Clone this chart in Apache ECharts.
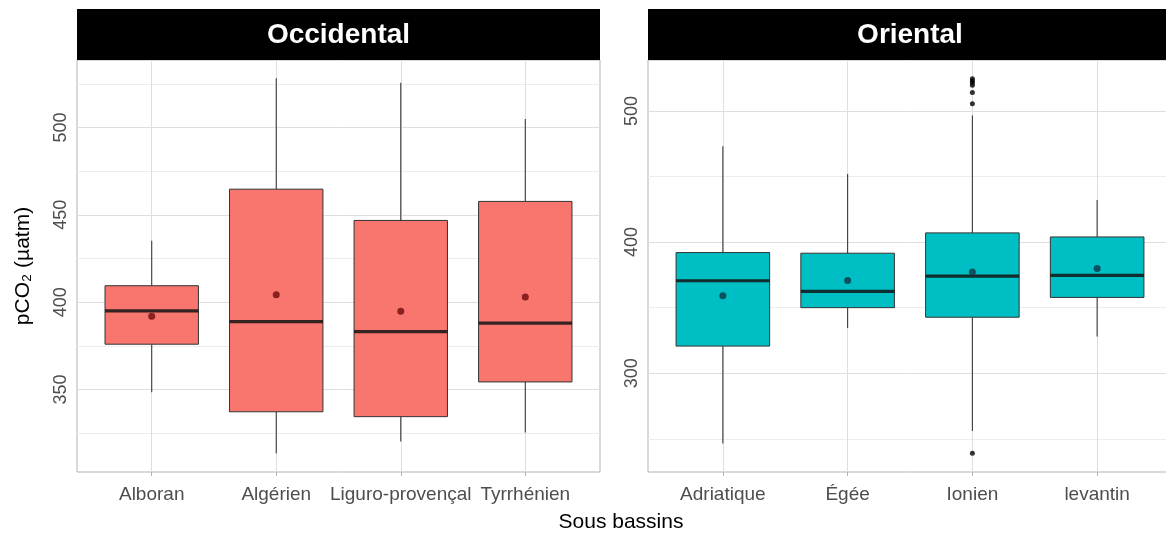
<!DOCTYPE html>
<html>
<head>
<meta charset="utf-8">
<script src="https://cdn.jsdelivr.net/npm/echarts@6/dist/echarts.min.js"></script>
<style>
html, body { margin: 0; padding: 0; background: #fff; }
#chart { width: 1166px; height: 535px; }
</style>
</head>
<body>
<div id="chart"></div>
<script>
// Occidental basin: box stats
const occCats = ['Alboran', 'Algérien', 'Liguro-provençal', 'Tyrrhénien']
const occLow = [348.4, 313.4, 320.2, 325.3]
const occQ1 = [375.9, 337.2, 334.4, 354.3]
const occMed = [395.0, 388.8, 383.1, 388.0]
const occQ3 = [409.4, 464.7, 446.8, 457.7]
const occHigh = [435.1, 528.2, 525.7, 504.9]
const occMean = [391.9, 404.3, 394.8, 403.0]
const occTicks = [350, 400, 450, 500]
const occMinor = [325, 375, 425, 475, 525]

// Oriental basin
const oriCats = ['Adriatique', 'Égée', 'Ionien', 'levantin']
const oriLow = [246.4, 334.5, 256.0, 328.0]
const oriQ1 = [320.7, 350.0, 342.7, 357.8]
const oriMed = [370.5, 362.4, 374.1, 374.6]
const oriQ3 = [392.0, 391.5, 407.0, 403.9]
const oriHigh = [473.1, 451.8, 496.4, 432.1]
const oriMean = [359.1, 370.7, 377.2, 379.8]
const ionienOutliers = [239, 505.5, 514, 519.5, 521.5, 523, 524.5]
const oriTicks = [300, 400, 500]
const oriMinor = [250, 350, 450]

const FONT = 'Liberation Sans, Arial, sans-serif'
const BOX_WIDTH = 0.75
const catPos = [0, 1, 2, 3]

function boxRows (low, q1, med, q3, high) {
  return low.map((v, i) => [i, v, q1[i], med[i], q3[i], high[i]])
}

function renderBox (params, api) {
  const x = api.value(0)
  const lo = api.coord([x, api.value(1)])
  const q1 = api.coord([x, api.value(2)])
  const med = api.coord([x, api.value(3)])
  const q3 = api.coord([x, api.value(4)])
  const hi = api.coord([x, api.value(5)])
  const half = api.size([BOX_WIDTH, 0])[0] / 2
  const wStyle = { stroke: '#3a3a3a', lineWidth: 1.1 }
  return {
    type: 'group',
    children: [
      { type: 'line', shape: { x1: lo[0], y1: lo[1], x2: q1[0], y2: q1[1] }, style: wStyle },
      { type: 'line', shape: { x1: q3[0], y1: q3[1], x2: hi[0], y2: hi[1] }, style: wStyle },
      {
        type: 'rect',
        shape: { x: q3[0] - half, y: q3[1], width: half * 2, height: q1[1] - q3[1] },
        style: { fill: api.visual('color'), stroke: '#333333', lineWidth: 1 }
      },
      {
        type: 'line',
        shape: { x1: med[0] - half, y1: med[1], x2: med[0] + half, y2: med[1] },
        style: { stroke: 'rgba(20,20,20,0.85)', lineWidth: 3.2 }
      }
    ]
  }
}

function gridLines (g, ticks, minor) {
  const line = (color) => ({ color: color, width: 1, type: 'solid' })
  return {
    type: 'line',
    xAxisIndex: g,
    yAxisIndex: g,
    data: [],
    z: 1,
    silent: true,
    markLine: {
      silent: true,
      z: 1,
      symbol: 'none',
      animation: false,
      label: { show: false },
      emphasis: { disabled: true },
      data: [
        ...minor.map(v => ({ yAxis: v, lineStyle: line('#ececec') })),
        ...ticks.map(v => ({ yAxis: v, lineStyle: line('#dedede') })),
        ...catPos.map(v => ({ xAxis: v, lineStyle: line('#dedede') }))
      ]
    }
  }
}

function xAxisFor (g, cats) {
  return {
    type: 'value',
    gridIndex: g,
    min: -0.6,
    max: 3.6,
    axisLine: { show: false },
    axisTick: { show: true, customValues: catPos, length: 4, lineStyle: { color: '#b3b3b3' } },
    axisLabel: {
      customValues: catPos,
      formatter: v => cats[Math.round(v)],
      fontSize: 19,
      fontFamily: FONT,
      color: '#4d4d4d',
      margin: 13
    },
    splitLine: { show: false }
  }
}

function yAxisFor (g, min, max, ticks) {
  return {
    type: 'value',
    gridIndex: g,
    min: min,
    max: max,
    axisLine: { show: false },
    axisTick: { show: true, customValues: ticks, length: 4, lineStyle: { color: '#b3b3b3' } },
    axisLabel: {
      customValues: ticks,
      rotate: 90,
      fontSize: 18,
      fontFamily: FONT,
      color: '#4d4d4d',
      margin: 7
    },
    splitLine: { show: false }
  }
}

const chart = echarts.init(document.getElementById('chart'))

const option = {
  animation: false,
  backgroundColor: '#fff',
  grid: [
    { left: 77, top: 60, width: 523, height: 412, show: true, borderColor: '#b3b3b3', borderWidth: 1, backgroundColor: '#fff', outerBoundsMode: 'none' },
    { left: 648, top: 60, width: 524, height: 412, show: true, borderColor: '#b3b3b3', borderWidth: 1, backgroundColor: '#fff', outerBoundsMode: 'none' }
  ],
  xAxis: [xAxisFor(0, occCats), xAxisFor(1, oriCats)],
  yAxis: [yAxisFor(0, 302.7, 538.7, occTicks), yAxisFor(1, 224.7, 538.8, oriTicks)],
  series: [
    gridLines(0, occTicks, occMinor),
    gridLines(1, oriTicks, oriMinor),
    {
      type: 'custom',
      name: 'Occidental',
      xAxisIndex: 0,
      yAxisIndex: 0,
      z: 2,
      itemStyle: { color: '#F8766D' },
      renderItem: renderBox,
      encode: { x: 0, y: [1, 2, 3, 4, 5] },
      data: boxRows(occLow, occQ1, occMed, occQ3, occHigh)
    },
    {
      type: 'custom',
      name: 'Oriental',
      xAxisIndex: 1,
      yAxisIndex: 1,
      z: 2,
      itemStyle: { color: '#00BFC4' },
      renderItem: renderBox,
      encode: { x: 0, y: [1, 2, 3, 4, 5] },
      data: boxRows(oriLow, oriQ1, oriMed, oriQ3, oriHigh)
    },
    {
      type: 'scatter',
      xAxisIndex: 0,
      yAxisIndex: 0,
      z: 3,
      symbolSize: 7,
      itemStyle: { color: '#6e0c0c' },
      data: occMean.map((v, i) => [i, v])
    },
    {
      type: 'scatter',
      xAxisIndex: 1,
      yAxisIndex: 1,
      z: 3,
      symbolSize: 7,
      itemStyle: { color: '#0b3646' },
      data: oriMean.map((v, i) => [i, v])
    },
    {
      type: 'scatter',
      xAxisIndex: 1,
      yAxisIndex: 1,
      z: 3,
      symbolSize: 5,
      itemStyle: { color: '#000' },
      data: ionienOutliers.map(v => [2, v])
    }
  ],
  graphic: [
    { type: 'rect', left: 77, top: 9, shape: { width: 523, height: 51 }, style: { fill: '#000' } },
    { type: 'rect', left: 648, top: 9, shape: { width: 524, height: 51 }, style: { fill: '#000' } },
    {
      type: 'text', x: 338.5, y: 35,
      style: { text: 'Occidental', fill: '#fff', fontSize: 28, fontWeight: 'bold', fontFamily: FONT, align: 'center', verticalAlign: 'middle' }
    },
    {
      type: 'text', x: 910, y: 35,
      style: { text: 'Oriental', fill: '#fff', fontSize: 28, fontWeight: 'bold', fontFamily: FONT, align: 'center', verticalAlign: 'middle' }
    },
    {
      type: 'text', x: 621, y: 522,
      style: { text: 'Sous bassins', fill: '#000', fontSize: 21, fontFamily: FONT, align: 'center', verticalAlign: 'middle' }
    },
    {
      type: 'text', x: 23, y: 266, rotation: Math.PI / 2,
      style: { text: 'pCO₂ (µatm)', fill: '#000', fontSize: 21, fontFamily: FONT, align: 'center', verticalAlign: 'middle' }
    }
  ]
}

chart.setOption(option)
</script>
</body>
</html>
